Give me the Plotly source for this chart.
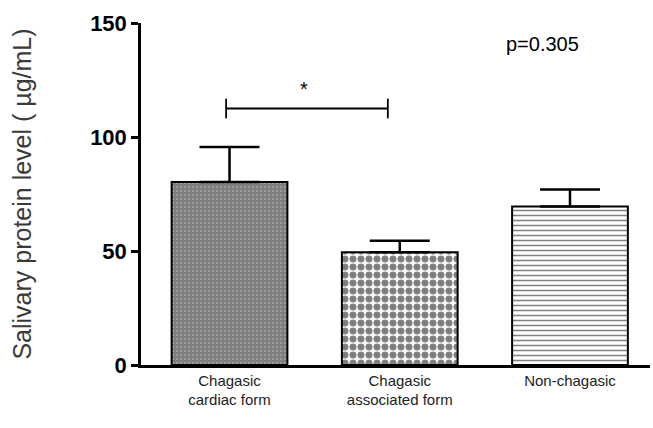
import plotly.graph_objects as go

categories = ["Chagasic<br>cardiac form", "Chagasic<br>associated form", "Non-chagasic"]
means = [80.3, 49.5, 69.5]
sem = [15.3, 5.0, 7.5]
patterns = [".", ".", "-"]
pat_sizes = [4, 8, 5]
pat_solid = [0.85, 0.6, 0.3]

sig_level = 112.5
star_level = 121
p_text = "p=0.305"

x = [0, 1, 2]

fig = go.Figure()
for i in range(3):
    fig.add_trace(go.Bar(
        x=[x[i]], y=[means[i]], width=0.68,
        marker=dict(color="white", line=dict(color="black", width=2),
                    pattern=dict(shape=patterns[i], fgcolor="black", bgcolor="white",
                                 size=pat_sizes[i], solidity=pat_solid[i], fillmode="overlay")),
        error_y=dict(type="data", array=[sem[i]], arrayminus=[0], symmetric=False,
                     color="black", thickness=2.5, width=30),
        showlegend=False,
    ))

# significance bracket
fig.add_shape(type="line", x0=-0.02, x1=0.93, y0=sig_level, y1=sig_level, xref="x", yref="y",
              line=dict(color="black", width=1.8))
for xx in [-0.02, 0.93]:
    fig.add_shape(type="line", x0=xx, x1=xx, y0=sig_level - 4.3, y1=sig_level + 4.3,
                  xref="x", yref="y", line=dict(color="black", width=1.8))
fig.add_annotation(x=0.44, y=star_level, text="*", showarrow=False,
                   font=dict(size=20, color="black", family="Arial"), xref="x", yref="y")
fig.add_annotation(x=1.84, y=141, text=p_text, showarrow=False,
                   font=dict(size=20, color="black", family="Arial"), xref="x", yref="y")

fig.update_layout(
    width=653, height=428,
    margin=dict(l=141, r=3, t=23, b=63),
    plot_bgcolor="white", paper_bgcolor="white",
    font=dict(family="Arial", color="black"),
)
fig.update_xaxes(
    range=[-0.52, 2.47], tickvals=x, ticktext=categories,
    showline=True, linecolor="black", linewidth=2.5, ticks="", showgrid=False,
    zeroline=False, tickfont=dict(size=15, color="#222"),
)
fig.update_yaxes(
    range=[0, 150], tickvals=[0, 50, 100, 150], ticktext=["<b>0</b>", "<b>50</b>", "<b>100</b>", "<b>150</b>"],
    showline=True, linecolor="black", linewidth=2.5, ticks="outside", ticklen=7, tickwidth=2.5,
    tickcolor="black", showgrid=False, zeroline=False, tickfont=dict(size=22, color="black"),
    title=dict(text="Salivary protein level ( µg/mL)", font=dict(size=25, color="#3a3a3a"), standoff=52),
)
fig.write_html("out.html", config={"displayModeBar": False},
               post_script="document.body.style.margin='0';")
